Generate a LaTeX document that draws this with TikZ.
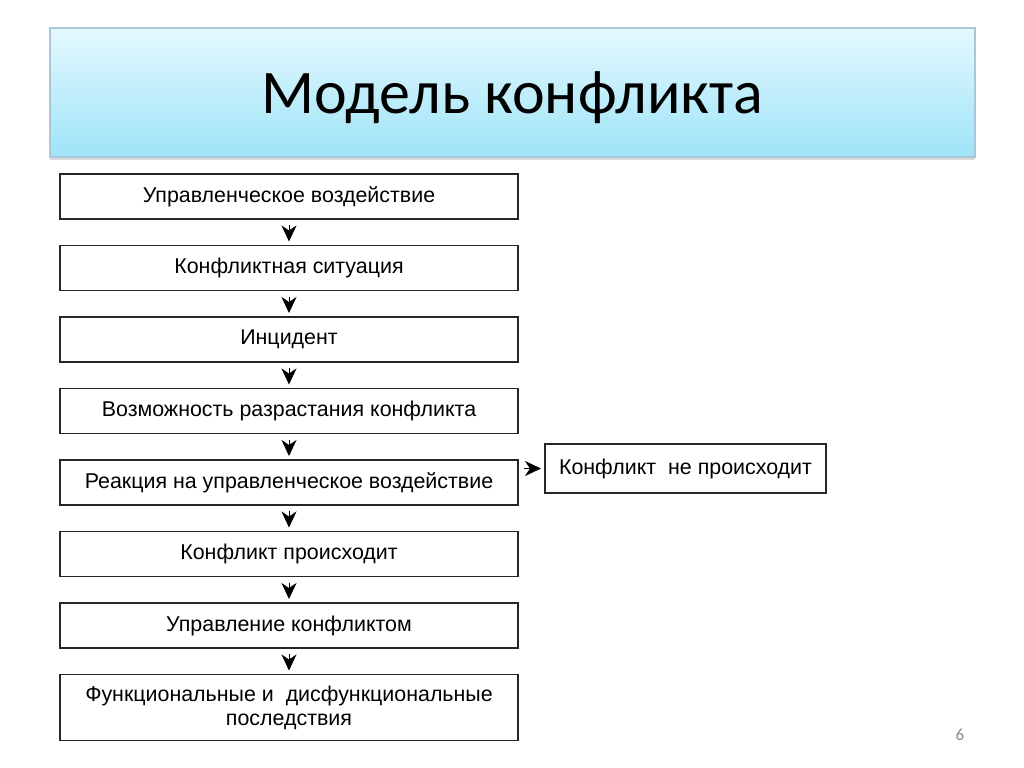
\documentclass[tikz,border=0pt]{standalone}
\usepackage{fontspec}
\setmainfont{Liberation Sans}
\newfontfamily\titlefont{Carlito}
\usetikzlibrary{arrows.meta,positioning,shadows}

\definecolor{titletop}{HTML}{E4F8FE}
\definecolor{titlebottom}{HTML}{9EE4F8}
\definecolor{titleline}{HTML}{A9C7D6}

\begin{document}
\begin{tikzpicture}[x=0.5pt, y=-0.5pt, >={Stealth[length=8pt,width=7.5pt,inset=2.5pt]},
    shorten >=2pt, shorten <=3pt, node distance=13.25pt,
    stage/.style={draw=black!85, line width=0.7pt, outer sep=0pt, minimum width=229pt, minimum height=22.5pt,
        inner sep=0pt, align=center, font=\fontsize{10.7}{12}\selectfont},
    header/.style={draw=titleline, line width=0.6pt, top color=titletop, bottom color=titlebottom,
        minimum width=462.5pt, minimum height=64.5pt, inner sep=0pt, text depth=0pt,
        drop shadow={shadow xshift=0pt, shadow yshift=-1.5pt, opacity=0.3},
        font=\titlefont\fontsize{31}{36}\selectfont},
    pagenum/.style={text=black!45, font=\titlefont\fontsize{8.5}{10}\selectfont}]
    \useasboundingbox (0,0) rectangle (1024,767);

    % Title
    \node [header]  (title) at (512.5,92.5)  {Модель конфликта};

    % Stages {s1 ... s8, no}
    \node [stage]   (s1) at (289,196.5)      {Управленческое воздействие};
    \node [stage]   (s2) [below=of s1]       {Конфликтная ситуация};
    \node [stage]   (s3) [below=of s2]       {Инцидент};
    \node [stage]   (s4) [below=of s3]       {Возможность разрастания конфликта};
    \node [stage]   (s5) [below=of s4]       {Реакция на управленческое воздействие};
    \node [stage]   (s6) [below=of s5]       {Конфликт происходит};
    \node [stage]   (s7) [below=of s6]       {Управление конфликтом};
    \node [stage, minimum height=33pt]
                    (s8) [below=of s7]       {Функциональные и\ \ дисфункциональные\\последствия};
    \node [stage, minimum width=140.5pt, minimum height=24.5pt]
                    (no) [right=13.5pt of s5, yshift=7pt] {Конфликт\ \ не происходит};

    \node [pagenum] (page) at (960,735)      {6};

    % Paths
    \path [->] (s1) edge (s2);
    \path [->] (s2) edge (s3);
    \path [->] (s3) edge (s4);
    \path [->] (s4) edge (s5);
    \path [->] (s5) edge (s6);
    \path [->] (s6) edge (s7);
    \path [->] (s7) edge (s8);
    \path [->] (s5.east |- no.west) edge (no.west);

\end{tikzpicture}
\end{document}
